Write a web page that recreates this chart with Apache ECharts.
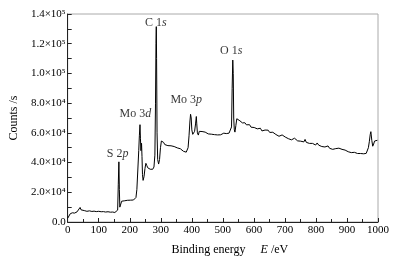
<!DOCTYPE html>
<html>
<head>
<meta charset="utf-8">
<script src="https://cdn.jsdelivr.net/npm/echarts@6/dist/echarts.min.js"></script>
<style>
  html, body { margin: 0; padding: 0; background: #fff; }
  #chart { width: 407px; height: 266px; }
</style>
</head>
<body>
<div id="chart"></div>
<script>
// XPS survey spectrum
var energy = [0, 3, 8, 15, 22, 30, 36, 40, 43, 47, 55, 62, 70, 78, 85, 92, 100, 108, 115, 122, 130, 138, 145, 152, 158,
  161, 163, 165, 166.5, 168, 171, 174, 177, 180, 184, 188, 192, 197, 202, 207, 212, 217, 220, 223, 226, 229, 231, 233,
  234.5, 236, 238, 239.5, 241, 243, 246, 249, 252, 255, 258, 262, 266, 270, 274, 278, 281, 283, 284.5, 285.5, 286.5,
  288, 290, 293, 296, 299, 302, 305, 309, 313, 318, 323, 328, 333, 338, 343, 348, 353, 358, 363, 368, 373, 378, 382,
  385, 388, 391, 394, 396, 398, 400, 403, 406, 409, 412, 414.5, 416, 418, 421, 424, 428, 433, 438, 443, 448, 453, 458,
  463, 468, 473, 478, 483, 488, 493, 498, 503, 507, 511, 515, 520, 525, 528, 530, 532, 533.5, 535, 537, 539, 542, 545,
  548, 551, 555, 559, 563, 567, 571, 576, 581, 586, 591, 596, 601, 606, 611, 616, 621, 626, 631, 636, 641, 646, 651,
  656, 661, 666, 671, 676, 681, 686, 691, 696, 701, 706, 711, 716, 721, 726, 731, 736, 741, 746, 751, 756, 761, 765,
  769, 774, 779, 784, 789, 794, 799, 804, 809, 814, 819, 824, 829, 834, 839, 844, 849, 854, 859, 864, 869, 874, 879,
  884, 889, 894, 899, 904, 909, 914, 919, 924, 929, 934, 939, 944, 949, 954, 958, 962, 966, 969, 972, 975, 977, 980,
  983, 986, 989, 992, 995, 998]
var counts = [2500, 3500, 5500, 6200, 6000, 6800, 7200, 9800, 8200, 7400, 7600, 7200, 7500, 7100, 7300, 7000, 7200,
  6900, 7000, 6700, 6900, 6600, 6700, 6400, 6600,
  8000, 25000, 40500, 22000, 10000, 11000, 14000, 15200, 14500, 14300, 15200, 14600, 15000, 14700, 15100, 14800,
  15300, 16500, 22000, 35000, 48000, 58000, 65500,
  56000, 48000, 53000, 44000, 32000, 28000, 30500, 36000, 39500, 38000, 36500, 36000, 35500, 34800, 35500, 37000,
  45000, 80000, 120000, 131500, 110000,
  60000, 42000, 39000, 42000, 50000, 54500, 53200, 53600, 52100, 52700, 51400, 51900, 51300, 50200, 50800, 49500,
  49900, 48700, 49300, 48100, 47600, 48000, 47000,
  47500, 50000, 58000, 68000, 72500, 70000, 62000, 59000, 59500, 61000, 66000, 71000, 66000, 60000, 58500, 61000,
  60200, 60900, 59700, 60500, 60100, 59300, 60200,
  59100, 59600, 58800, 59400, 58600, 59300, 58700, 58200, 59800, 60700, 59500, 59200, 59800, 60200, 64000, 90000,
  109000, 100000, 70000, 62000, 60500, 65000, 69500,
  68600, 69200, 68100, 67900, 66700, 67400, 66800, 65400, 65100, 65500, 63800, 64400, 63600, 64300, 62700, 63100,
  63100, 61300, 61800, 61900, 60600, 61800, 60300,
  59500, 60400, 59700, 58900, 59700, 57700, 58500, 58600, 57400, 57200, 57900, 56100, 56700, 55300, 56100, 56400,
  55100, 54600, 55500, 54400, 54700, 53900, 55600,
  53600, 54000, 52900, 54000, 52900, 53200, 51800, 53200, 51700, 51800, 50800, 51800, 50500, 50900, 51200, 49600,
  50300, 48900, 50100, 49400, 48700, 49700, 48500,
  48900, 47700, 48400, 48600, 47300, 47900, 46700, 47800, 46900, 47300, 46100, 46900, 46100, 46800, 45900, 45600,
  46200, 47000, 50000, 54000, 59000, 60800, 55000,
  51000, 52500, 54500, 53500, 54000, 55000]

// peak labels
var peakNames = ['S 2{i|p}', 'Mo 3{i|d}', 'C 1{i|s}', 'Mo 3{i|p}', 'O 1{i|s}']
var peakE = [161, 218, 284, 382, 527]
var peakY = [45800, 72700, 134000, 82000, 115000]

var sup = ['⁰', '¹', '²', '³', '⁴', '⁵', '⁶', '⁷', '⁸', '⁹']
var font = '"Liberation Serif", "Times New Roman", serif'

var chart = echarts.init(document.getElementById('chart'))

var line = []
for (var i = 0; i < energy.length; i++) {
  line.push([energy[i], counts[i]])
}
var labels = []
for (var j = 0; j < peakNames.length; j++) {
  labels.push({ value: [peakE[j], peakY[j]], label: { formatter: peakNames[j] } })
}

var option = {
  animation: false,
  textStyle: { fontFamily: font, color: '#000' },
  grid: {
    left: 61, right: 29, top: 14, bottom: 44,
    show: true, borderColor: '#aaa', borderWidth: 1
  },
  xAxis: {
    type: 'value',
    min: 0, max: 1000, interval: 100,
    name: '{n|Binding energy}{n|     }{i|E}{n| /eV}',
    nameLocation: 'middle',
    nameGap: 22,
    nameTextStyle: {
      padding: [0, 0, 0, 14],
      rich: {
        n: { fontFamily: font, fontSize: 12, color: '#000' },
        i: { fontFamily: font, fontSize: 12, color: '#000', fontStyle: 'italic' }
      }
    },
    axisLine: { lineStyle: { color: '#222' } },
    axisTick: { inside: true, length: 4, lineStyle: { color: '#222' } },
    minorTick: { show: true, splitNumber: 2, length: 3, lineStyle: { color: '#222' } },
    splitLine: { show: false },
    axisLabel: {
      fontFamily: font, fontSize: 11, color: '#000', margin: 3,
      formatter: function(v) { return String(v) }
    }
  },
  yAxis: {
    type: 'value',
    min: 0, max: 140000, interval: 20000,
    name: 'Counts /s',
    nameLocation: 'middle',
    nameGap: 44,
    nameTextStyle: { fontFamily: font, fontSize: 12, color: '#000' },
    axisLine: { show: true, lineStyle: { color: '#222' } },
    axisTick: { show: true, inside: true, length: 4, lineStyle: { color: '#222' } },
    minorTick: { show: true, splitNumber: 2, length: 4, lineStyle: { color: '#222' } },
    splitLine: { show: false },
    axisLabel: {
      fontFamily: font, fontSize: 11, color: '#000', margin: 2,
      formatter: function(v) {
        if (v === 0) return '0.0'
        var e = Math.floor(Math.log10(v) + 1e-9)
        var m = v / Math.pow(10, e)
        return m.toFixed(1) + '×10' + sup[e]
      }
    }
  },
  series: [
    {
      type: 'line',
      data: line,
      showSymbol: false,
      lineStyle: { color: '#000', width: 1 },
      silent: true
    },
    {
      type: 'scatter',
      data: labels,
      symbolSize: 0,
      silent: true,
      label: {
        show: true,
        position: 'inside',
        fontFamily: font,
        fontSize: 12,
        color: '#000',
        rich: {
          i: { fontFamily: font, fontSize: 12, color: '#000', fontStyle: 'italic' }
        }
      }
    }
  ]
}
chart.setOption(option)
window.addEventListener('resize', function() {
  chart.resize()
})
</script>
</body>
</html>
